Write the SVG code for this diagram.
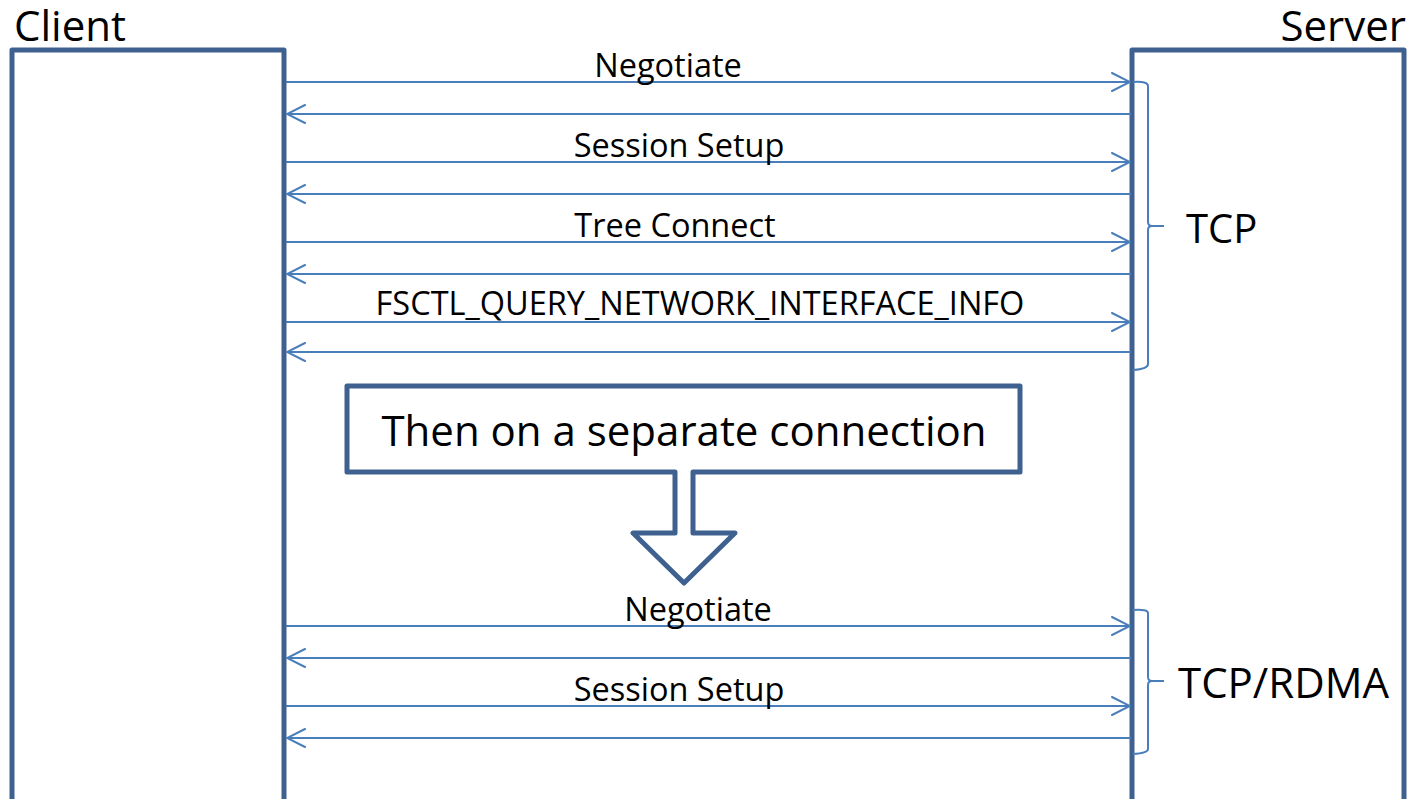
<svg xmlns="http://www.w3.org/2000/svg" width="1411" height="799" viewBox="0 0 1411 799">
  <style>
    .lane { fill: none; stroke: #3F6190; stroke-width: 5; stroke-linejoin: round; }
    .msg { fill: none; stroke: #4A7EBB; stroke-width: 2; }
    .brace { fill: none; stroke: #4A7EBB; stroke-width: 2; }
    .head { fill: none; stroke: #4A7EBB; stroke-width: 2; stroke-linecap: round; stroke-linejoin: miter; }
    text { font-family: "Open Sans", "Liberation Sans", sans-serif; fill: #000; }
    .lbl { font-size: 32.5px; text-anchor: middle; }
    .big { font-size: 42px; }
  </style>
  <defs>
    <marker id="open" viewBox="0 0 20 20" refX="19" refY="10" markerWidth="20" markerHeight="20" markerUnits="userSpaceOnUse" orient="auto">
      <path class="head" d="M1,1 L19,10 L1,19"/>
    </marker>
  </defs>

  <!-- lifelines -->
  <g id="client">
    <path class="lane" d="M12,805 V50 H284 V805"/>
    <text class="big" x="14" y="41">Client</text>
  </g>
  <g id="server">
    <path class="lane" d="M1132,805 V50 H1404 V805"/>
    <text class="big" x="1406" y="41" text-anchor="end">Server</text>
  </g>

  <!-- messages -->
  <g id="connectors">
    <line class="msg" x1="286" y1="82" x2="1130" y2="82" marker-end="url(#open)"/>
    <line class="msg" x1="1131" y1="114" x2="287" y2="114" marker-end="url(#open)"/>
    <line class="msg" x1="286" y1="162" x2="1130" y2="162" marker-end="url(#open)"/>
    <line class="msg" x1="1131" y1="194" x2="287" y2="194" marker-end="url(#open)"/>
    <line class="msg" x1="286" y1="242" x2="1130" y2="242" marker-end="url(#open)"/>
    <line class="msg" x1="1131" y1="274" x2="287" y2="274" marker-end="url(#open)"/>
    <line class="msg" x1="286" y1="322" x2="1130" y2="322" marker-end="url(#open)"/>
    <line class="msg" x1="1131" y1="352" x2="287" y2="352" marker-end="url(#open)"/>

    <line class="msg" x1="286" y1="626" x2="1130" y2="626" marker-end="url(#open)"/>
    <line class="msg" x1="1131" y1="658" x2="287" y2="658" marker-end="url(#open)"/>
    <line class="msg" x1="286" y1="706" x2="1130" y2="706" marker-end="url(#open)"/>
    <line class="msg" x1="1131" y1="738" x2="287" y2="738" marker-end="url(#open)"/>
  </g>

  <g id="labels">
    <text class="lbl" x="668" y="77">Negotiate</text>
    <text class="lbl" x="679" y="157">Session Setup</text>
    <text class="lbl" x="675" y="237">Tree Connect</text>
    <text class="lbl" x="700" y="315">FSCTL_QUERY_NETWORK_INTERFACE_INFO</text>
    <text class="lbl" x="698" y="621">Negotiate</text>
    <text class="lbl" x="679" y="701">Session Setup</text>
  </g>

  <!-- transport braces -->
  <g id="tcp">
    <path class="brace" d="M1133,82 Q1148,81 1148,86 V222 Q1148,226 1152,226 H1164 M1152,226 Q1148,226 1148,230 V364 Q1148,369 1133,370"/>
    <text x="1186" y="243" style="font-size:40px">TCP</text>
  </g>
  <g id="tcp-rdma">
    <path class="brace" d="M1133,610 Q1148,609 1148,613 V677 Q1148,681 1152,681 H1164 M1152,681 Q1148,681 1148,685 V749 Q1148,753 1133,754"/>
    <text class="big" x="1178" y="698">TCP/RDMA</text>
  </g>

  <!-- callout -->
  <g id="separate-connection">
    <path class="lane" stroke-linejoin="miter" d="M347,386 H1020 V472 H693 V533 H735 L684,583 L633,533 H675 V472 H347 Z" fill="#fff"/>
    <text x="684" y="446" text-anchor="middle" style="font-size:42px">Then on a separate connection</text>
  </g>
</svg>
